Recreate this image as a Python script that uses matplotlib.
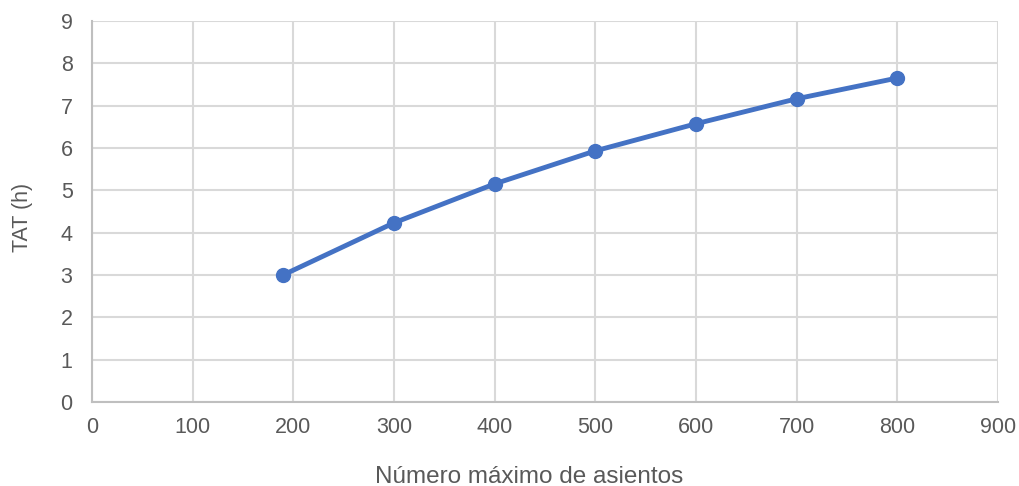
import matplotlib.pyplot as plt

plt.rcParams['font.family'] = ['Liberation Sans', 'DejaVu Sans']

# Data
asientos = [190, 300, 400, 500, 600, 700, 800]
tat_h = [3.0, 4.23, 5.15, 5.93, 6.57, 7.16, 7.65]

text_color = '#595959'

fig = plt.figure(figsize=(10.19, 4.86), dpi=100)
ax = fig.add_axes([0.0903, 0.173, 0.889, 0.784])

ax.plot(asientos, tat_h, color='#4472C4', linewidth=3.5, marker='o',
        markersize=10, zorder=3, clip_on=False)

ax.set_xlim(0, 900)
ax.set_ylim(0, 9)
ax.set_xticks(range(0, 901, 100))
ax.set_yticks(range(0, 10))
ax.grid(True, color='#d9d9d9', linewidth=1.5)
ax.set_axisbelow(True)

for side in ['top', 'right']:
    ax.spines[side].set_visible(False)
for side in ['left', 'bottom']:
    ax.spines[side].set_color('#bfbfbf')
    ax.spines[side].set_linewidth(1.5)

ax.tick_params(length=0, labelsize=15.5, labelcolor=text_color)
ax.tick_params(axis='x', pad=11)
ax.tick_params(axis='y', pad=14)
ax.set_xlabel('Número máximo de asientos', fontsize=17.5, color=text_color)
ax.set_ylabel('TAT (h)', fontsize=15.5, color=text_color)
ax.xaxis.set_label_coords(0.483, -0.168)
ax.yaxis.set_label_coords(-0.065, 0.483)

fig.savefig('out.png', dpi=100)
